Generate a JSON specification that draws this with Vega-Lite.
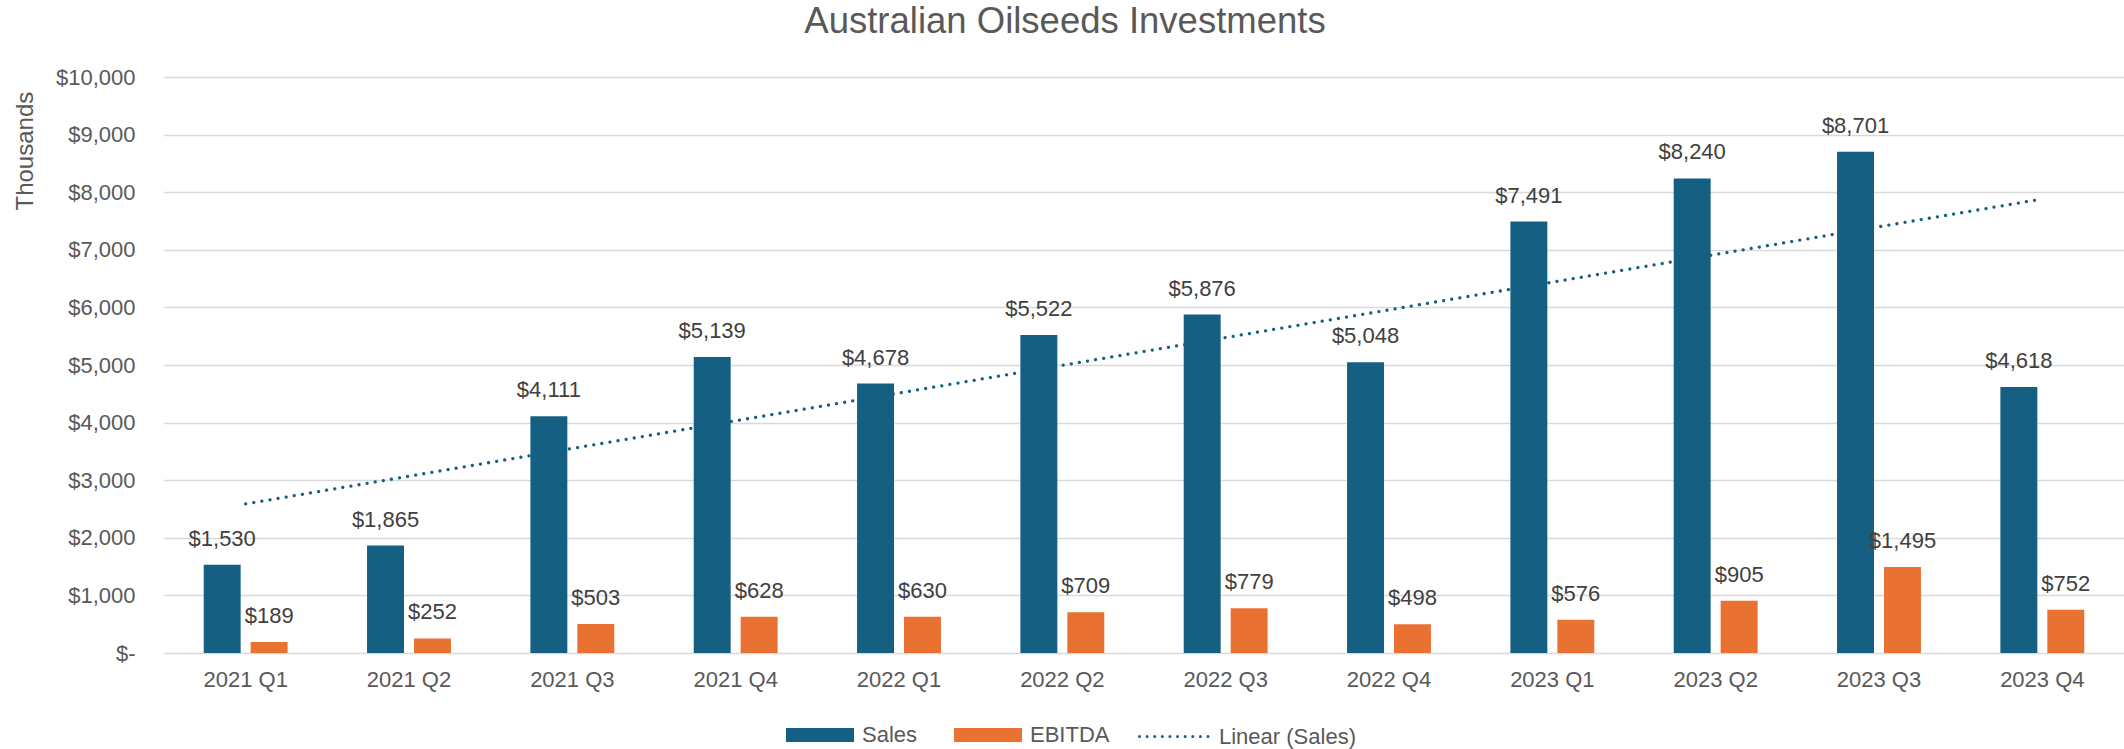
{
  "$schema": "https://vega.github.io/schema/vega-lite/v6.json",
  "width": 1960,
  "height": 576,
  "autosize": {"type": "none"},
  "padding": {"left": 164, "top": 77, "right": 0, "bottom": 96},
  "background": "white",
  "config": {"view": {"stroke": null}, "font": "Liberation Sans"},
  "title": {
    "text": "Australian Oilseeds Investments",
    "fontSize": 36.5,
    "font": "Liberation Sans",
    "fontWeight": "normal",
    "color": "#595959",
    "anchor": "middle",
    "baseline": "alphabetic",
    "offset": 31,
    "dy": 34,
    "dx": -79
  },
  "datasets": {
    "bars": [
      {"quarter": "2021 Q1", "series": "Sales", "value": 1530},
      {"quarter": "2021 Q1", "series": "EBITDA", "value": 189},
      {"quarter": "2021 Q2", "series": "Sales", "value": 1865},
      {"quarter": "2021 Q2", "series": "EBITDA", "value": 252},
      {"quarter": "2021 Q3", "series": "Sales", "value": 4111},
      {"quarter": "2021 Q3", "series": "EBITDA", "value": 503},
      {"quarter": "2021 Q4", "series": "Sales", "value": 5139},
      {"quarter": "2021 Q4", "series": "EBITDA", "value": 628},
      {"quarter": "2022 Q1", "series": "Sales", "value": 4678},
      {"quarter": "2022 Q1", "series": "EBITDA", "value": 630},
      {"quarter": "2022 Q2", "series": "Sales", "value": 5522},
      {"quarter": "2022 Q2", "series": "EBITDA", "value": 709},
      {"quarter": "2022 Q3", "series": "Sales", "value": 5876},
      {"quarter": "2022 Q3", "series": "EBITDA", "value": 779},
      {"quarter": "2022 Q4", "series": "Sales", "value": 5048},
      {"quarter": "2022 Q4", "series": "EBITDA", "value": 498},
      {"quarter": "2023 Q1", "series": "Sales", "value": 7491},
      {"quarter": "2023 Q1", "series": "EBITDA", "value": 576},
      {"quarter": "2023 Q2", "series": "Sales", "value": 8240},
      {"quarter": "2023 Q2", "series": "EBITDA", "value": 905},
      {"quarter": "2023 Q3", "series": "Sales", "value": 8701},
      {"quarter": "2023 Q3", "series": "EBITDA", "value": 1495},
      {"quarter": "2023 Q4", "series": "Sales", "value": 4618},
      {"quarter": "2023 Q4", "series": "EBITDA", "value": 752}
    ],
    "trend": [
      {"quarter": "2021 Q1", "series": "Linear (Sales)", "value": 2588},
      {"quarter": "2021 Q2", "series": "Linear (Sales)", "value": 3069},
      {"quarter": "2021 Q3", "series": "Linear (Sales)", "value": 3551},
      {"quarter": "2021 Q4", "series": "Linear (Sales)", "value": 4032},
      {"quarter": "2022 Q1", "series": "Linear (Sales)", "value": 4513},
      {"quarter": "2022 Q2", "series": "Linear (Sales)", "value": 4994},
      {"quarter": "2022 Q3", "series": "Linear (Sales)", "value": 5476},
      {"quarter": "2022 Q4", "series": "Linear (Sales)", "value": 5957},
      {"quarter": "2023 Q1", "series": "Linear (Sales)", "value": 6438},
      {"quarter": "2023 Q2", "series": "Linear (Sales)", "value": 6919},
      {"quarter": "2023 Q3", "series": "Linear (Sales)", "value": 7400},
      {"quarter": "2023 Q4", "series": "Linear (Sales)", "value": 7882}
    ]
  },
  "encoding": {
    "x": {
      "field": "quarter",
      "type": "nominal",
      "sort": ["2021 Q1", "2021 Q2", "2021 Q3", "2021 Q4", "2022 Q1", "2022 Q2", "2022 Q3", "2022 Q4", "2023 Q1", "2023 Q2", "2023 Q3", "2023 Q4"],
      "scale": {"paddingInner": 0, "paddingOuter": 0},
      "axis": {
        "title": null,
        "labelAngle": 0,
        "labelFontSize": 22,
        "labelColor": "#595959",
        "labelBaseline": "alphabetic",
        "labelPadding": 33,
        "ticks": false,
        "domain": false,
        "grid": false
      }
    },
    "y": {
      "field": "value",
      "type": "quantitative",
      "scale": {"domain": [0, 10000], "nice": false},
      "axis": {
        "title": "Thousands",
        "titleFontSize": 24,
        "titleColor": "#595959",
        "titleFontWeight": "normal",
        "titleX": -132,
        "titleY": 133,
        "titleAlign": "left",
        "titleBaseline": "alphabetic",
        "titleAngle": 270,
        "values": [0, 1000, 2000, 3000, 4000, 5000, 6000, 7000, 8000, 9000, 10000],
        "labelExpr": "datum.value === 0 ? '$-\u00a0\u00a0' : format(datum.value, '$,.0f')",
        "labelFontSize": 22,
        "labelColor": "#595959",
        "labelPadding": 29,
        "ticks": false,
        "domain": false,
        "grid": true,
        "gridColor": "#D9D9D9",
        "gridWidth": 1.3
      }
    }
  },
  "layer": [
    {
      "data": {"name": "bars"},
      "mark": {"type": "bar"},
      "encoding": {
        "xOffset": {"field": "series", "type": "nominal", "sort": ["Sales", "EBITDA"], "scale": {"paddingInner": 0.2128, "paddingOuter": 0.846}},
        "fill": {
          "field": "series",
          "type": "nominal",
          "scale": {"domain": ["Sales", "EBITDA"], "range": ["#156082", "#E97132"]},
          "legend": {
            "title": null,
            "orient": "none",
            "legendX": 622,
            "legendY": 624,
            "direction": "horizontal",
            "symbolType": "M-1,-0.206H1V0.206H-1Z",
            "symbolSize": 4624,
            "symbolStrokeWidth": 0,
            "symbolOpacity": 1,
            "labelFontSize": 22,
            "labelColor": "#595959",
            "labelFont": "Liberation Sans",
            "labelOffset": 8,
            "columnPadding": 36,
            "padding": 0
          }
        }
      }
    },
    {
      "data": {"name": "bars"},
      "mark": {"type": "text", "dy": -19, "baseline": "alphabetic", "fontSize": 22, "color": "#404040", "font": "Liberation Sans"},
      "encoding": {
        "xOffset": {"field": "series", "type": "nominal", "sort": ["Sales", "EBITDA"], "scale": {"paddingInner": 0.2128, "paddingOuter": 0.846}},
        "text": {"field": "value", "type": "quantitative", "format": "$,.0f"}
      }
    },
    {
      "data": {"name": "trend"},
      "mark": {"type": "line", "strokeWidth": 3.3, "strokeDash": [0.01, 8.2], "strokeCap": "round"},
      "encoding": {
        "stroke": {
          "field": "series",
          "type": "nominal",
          "scale": {"domain": ["Linear (Sales)"], "range": ["#156082"]},
          "legend": {
            "title": null,
            "orient": "none",
            "legendX": 974,
            "legendY": 623.5,
            "direction": "horizontal",
            "symbolType": "stroke",
            "symbolSize": 4761,
            "symbolStrokeWidth": 3,
            "symbolDash": [0.01, 7.6],
            "labelFontSize": 22,
            "labelColor": "#595959",
            "labelFont": "Liberation Sans",
            "labelOffset": 9,
            "padding": 0,
            "encode": {"symbols": {"update": {"strokeCap": {"value": "round"}}}}
          }
        }
      }
    }
  ]
}
